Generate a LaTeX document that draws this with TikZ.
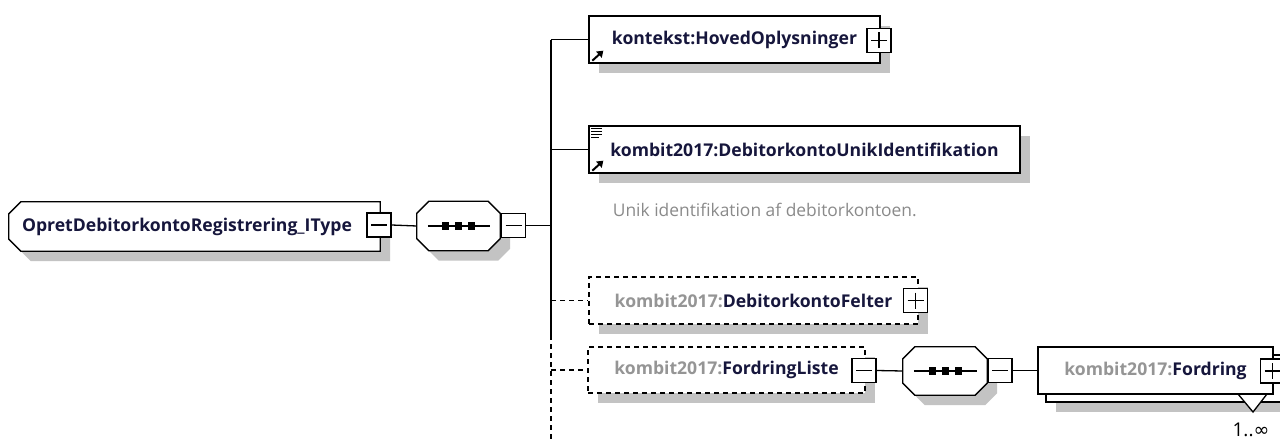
\documentclass[tikz,border=0pt]{standalone}
\usepackage{fontspec}
\setmainfont{Open Sans}
\newfontfamily\symfont{DejaVu Sans}
\usetikzlibrary{positioning,shadows,arrows.meta,backgrounds}

\definecolor{shadegray}{HTML}{C3C3C3}
\definecolor{prefixgray}{HTML}{959595}
\definecolor{notegray}{HTML}{8A8A8A}
\definecolor{namenavy}{HTML}{16163C}

\tikzset{
	shadebox/.style={drop shadow={shadow xshift=10pt, shadow yshift=-10pt, opacity=1, fill=shadegray}},
	nametext/.style={text=namenavy, font=\bfseries\fontsize{17.6}{20}\selectfont},
	plainbox/.style={draw, fill=white, line width=1.3pt, inner sep=0pt, nametext},
	elembox/.style={plainbox, shadebox},
	optbox/.style={elembox, dash pattern=on 5pt off 4pt},
	frame/.style={draw=none, inner sep=0pt},
	outline/.style={draw, fill=white, line width=1.3pt, shadebox},
	wire/.style={line width=1.3pt},
	optwire/.style={line width=1.3pt, dash pattern=on 5pt off 4pt},
	minusbox/.style={draw, fill=white, line width=1.2pt, minimum size=24pt, inner sep=0pt,
		path picture={\draw[line width=1.2pt] ([xshift=4pt]path picture bounding box.west) -- ([xshift=-4pt]path picture bounding box.east);}},
	plusbox/.style={minusbox,
		path picture={\draw[line width=1.2pt] ([xshift=4pt]path picture bounding box.west) -- ([xshift=-4pt]path picture bounding box.east)
			([yshift=-4pt]path picture bounding box.north) -- ([yshift=4pt]path picture bounding box.south);}},
	refarrow/.style={line width=2pt, -{Triangle[length=6pt,width=8pt]}}
}

% octagon round a node, all corners
\newcommand{\octbox}[1]{%
	\path[outline] ([xshift=12pt]#1.north west) -- ([xshift=-12pt]#1.north east) -- ([yshift=-12pt]#1.north east)
		-- ([yshift=12pt]#1.south east) -- ([xshift=-12pt]#1.south east) -- ([xshift=12pt]#1.south west)
		-- ([yshift=12pt]#1.south west) -- ([yshift=-12pt]#1.north west) -- cycle;}
% only the left corners cut
\newcommand{\leftcutbox}[1]{%
	\path[outline] ([xshift=12pt]#1.north west) -- (#1.north east) -- (#1.south east) -- ([xshift=12pt]#1.south west)
		-- ([yshift=12pt]#1.south west) -- ([yshift=-12pt]#1.north west) -- cycle;}
% the sequence mark
\newcommand{\seqmark}[1]{%
	\draw[line width=1.2pt] ([xshift=11pt]#1.west) -- ([xshift=-10pt]#1.east);
	\foreach \dx in {-13,0,13}
		\fill ([xshift=\dx pt]#1.center) +(-3.5pt,-4pt) rectangle +(3.5pt,4pt);}
\newcommand{\prefixed}[1]{{\color{prefixgray}kombit2017:}#1}

\begin{document}
\begin{tikzpicture}[x=1pt, y=-1pt]
	\useasboundingbox (0,0) rectangle (1280,441);

	% type and first sequence
	\node[frame, nametext, minimum width=371pt, minimum height=49pt] (itype) at (194.5,226.5)
		{OpretDebitorkontoRegistrering\_IType\hspace*{15pt}};
	\node[minusbox] (itypeminus) at (379,225) {};
	\node[frame, minimum width=83pt, minimum height=49pt] (seqa) at (458.5,226) {};
	\node[minusbox] (seqaminus) at (513.5,225.5) {};
	\seqmark{seqa}

	\coordinate (bustop) at (551,40);
	\coordinate (busbreak) at (551,335);
	\coordinate (busend) at (551,441);

	% children
	\node[elembox, minimum width=291pt, minimum height=47pt] (kontekst) at (734.5,39.5) {kontekst:HovedOplysninger};
	\node[plusbox] (kontekstplus) at (879,40.5) {};

	\node[elembox, minimum width=431pt, minimum height=47pt] (unik) at (804.5,149.5) {kombit2017:DebitorkontoUnikIdentifikation};
	\node[anchor=west, text=notegray, font=\fontsize{17.4}{20}\selectfont] (unikdoc) at ([shift={(21pt,-36pt)}]unik.south west) {Unik identifikation af debitorkontoen.};

	\node[optbox, minimum width=329pt, minimum height=47pt] (felter) at (753.5,300.5) {\prefixed{DebitorkontoFelter}};
	\node[plusbox] (felterplus) at (915.5,300.5) {};

	\node[optbox, minimum width=277pt, minimum height=46pt] (liste) at (726.5,370) {\prefixed{FordringListe}};
	\node[minusbox] (listeminus) at (864,370.5) {};

	\node[frame, minimum width=84pt, minimum height=48pt] (seqb) at (945,371) {};
	\node[minusbox] (seqbminus) at (1000,370.5) {};
	\seqmark{seqb}

	\node[elembox, minimum width=235pt, minimum height=47pt] (fordringback) at (1163.5,378.5) {};
	\filldraw[fill=white, line width=1.3pt] (1238,394) -- (1253,412) -- (1267,394);
	\node[plainbox, minimum width=235pt, minimum height=47pt] (fordring) at (1155.5,370.5) {\prefixed{Fordring}};
	\node[plusbox] (fordringplus) at (1272.5,371) {};
	\node[font=\fontsize{19}{20}\selectfont] (fordringcard) at (1251,430) {1..{\symfont ∞}};

	% chamfered outlines go behind their nodes
	\begin{scope}[on background layer]
		\leftcutbox{itype}
		\octbox{seqa}
		\octbox{seqb}
	\end{scope}

	% icons
	\draw[refarrow] ([shift={(4pt,3pt)}]kontekst.south west) -- ++(11pt,10pt);
	\draw[refarrow] ([shift={(4pt,3pt)}]unik.south west) -- ++(11pt,10pt);
	\foreach \dy/\len in {3/11,6/11,9/11,12/8}
		\draw[line width=1pt] ([shift={(3pt,-\dy pt)}]unik.north west) -- ++(\len pt,0pt);

	% connectors
	\draw[wire] (itypeminus.east) -- (seqa.west);
	\draw[wire] (seqaminus.east) -- (seqaminus.east -| bustop);
	\draw[wire] (bustop) -- (busbreak);
	\draw[optwire] (busbreak) -- (busend);
	\draw[wire] (bustop |- kontekst.west) -- (kontekst.west);
	\draw[wire] (bustop |- unik.west) -- (unik.west);
	\draw[optwire] (bustop |- felter.west) -- (felter.west);
	\draw[optwire] (bustop |- liste.west) -- (liste.west);
	\draw[wire] (listeminus.east) -- (seqb.west);
	\draw[wire] (seqbminus.east) -- (fordring.west);
\end{tikzpicture}
\end{document}
